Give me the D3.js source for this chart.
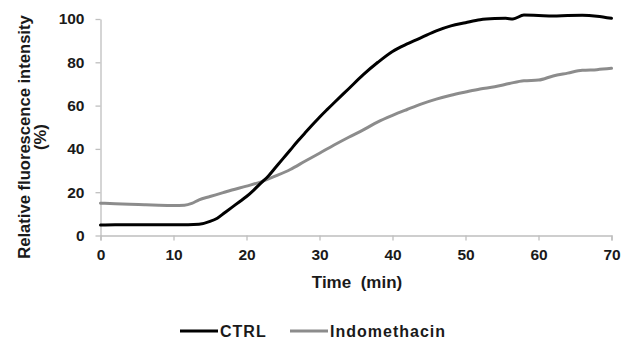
<!DOCTYPE html>
<html>
<head>
<meta charset="utf-8">
<script src="https://cdn.jsdelivr.net/npm/d3@7"></script>
<style>
  body { margin: 0; background: #fff; }
  text { font-family: Arial, "Liberation Sans", sans-serif; font-weight: bold; fill: #1a1a1a; }
</style>
</head>
<body>
<svg id="chart" width="629" height="345"></svg>
<script>
// values (time in min, relative intensity in %)
var ctrlTime = [0,2,4,6,8,10,12,13.5,15,16,17,18,19,20,21,22,23,24,25,26,27,28,29,30,31,32,34,36,38,40,42,44,46,48,50,52,54,55.5,56.5,58,60,62,64,66,68,70];
var ctrlValue = [4.8,5,5,5,5,5,5,5.2,6.5,8,10.5,13,15.5,18,21,24.3,27.5,31.5,35.5,39.5,43.5,47.3,51,54.6,58,61.3,67.8,74.3,80,85,88.5,91.5,94.5,96.8,98.3,99.7,100.2,100.3,100,101.8,101.6,101.4,101.6,101.7,101.3,100.3];

var indoTime = [0,2,4,6,8,10,11.5,12.5,13.5,15,16.8,18,20,22,24,26,28,30,32,34,36,38,40,42,44,46,48,50,52,54,56,58,60,62,64,66,68,70];
var indoValue = [14.9,14.7,14.4,14.2,14,13.9,14,14.8,16.5,18,19.8,21,22.8,24.8,27.5,30.5,34.3,38,41.8,45.4,48.8,52.5,55.5,58.2,60.8,63,64.8,66.3,67.7,68.7,70.2,71.5,71.8,73.7,75,76.3,76.6,77.2];

var xTicks = [0,10,20,30,40,50,60,70];
var yTicks = [0,20,40,60,80,100];
var seriesNames = ["CTRL","Indomethacin"];
var seriesColors = ["#000000","#8c8c8c"];

var svg = d3.select("#chart");

var x = d3.scaleLinear().domain([0,70]).range([100.5, 611.5]);
var y = d3.scaleLinear().domain([0,100]).range([235.5, 19]);

var axisColor = "#bfbfbf";

// x axis
var gx = svg.append("g").attr("transform", "translate(0," + y(0) + ")")
  .call(d3.axisBottom(x).tickValues(xTicks).tickSize(5).tickPadding(8).tickFormat(d3.format("d")));
gx.select(".domain").attr("stroke", axisColor).attr("stroke-width", 1.3);
gx.selectAll(".tick line").attr("stroke", axisColor).attr("stroke-width", 1.3);
gx.selectAll(".tick text").style("font-size", "15.5px").attr("fill", "#1a1a1a");

// y axis
var gy = svg.append("g").attr("transform", "translate(" + x(0) + ",0)")
  .call(d3.axisLeft(y).tickValues(yTicks).tickSize(5).tickPadding(11).tickSizeOuter(0));
gy.select(".domain").attr("stroke", axisColor).attr("stroke-width", 1.3);
gy.selectAll(".tick line").attr("stroke", axisColor).attr("stroke-width", 1.3);
gy.selectAll(".tick text").style("font-size", "15.5px").attr("fill", "#1a1a1a");

// lines
var line = d3.line()
  .x(function(d) { return x(d[0]); })
  .y(function(d) { return y(d[1]); })
  .curve(d3.curveMonotoneX);

var series = [d3.zip(ctrlTime, ctrlValue), d3.zip(indoTime, indoValue)];

svg.append("g").selectAll("path")
  .data([1, 0])
  .enter().append("path")
    .attr("d", function(i) { return line(series[i]); })
    .attr("fill", "none")
    .attr("stroke", function(i) { return seriesColors[i]; })
    .attr("stroke-width", 3)
    .attr("stroke-linejoin", "round")
    .attr("stroke-linecap", "round");

// axis titles
svg.append("text")
  .attr("x", 357).attr("y", 288)
  .attr("text-anchor", "middle")
  .style("font-size", "17px")
  .style("white-space", "pre")
  .text("Time  (min)");

var yTitle = svg.append("text")
  .attr("transform", "translate(0,137) rotate(-90)")
  .attr("text-anchor", "middle")
  .style("font-size", "16.6px");
yTitle.append("tspan").attr("x", 0).attr("y", 30).text("Relative fluorescence intensity");
yTitle.append("tspan").attr("x", 0).attr("y", 46).text("(%)");

// legend
var legendX = [180, 290];
var legend = svg.append("g").selectAll("g")
  .data(seriesNames)
  .enter().append("g")
    .attr("transform", function(d, i) { return "translate(" + legendX[i] + ",331)"; });

legend.append("line")
  .attr("x1", 0).attr("x2", 38)
  .attr("stroke", function(d, i) { return seriesColors[i]; })
  .attr("stroke-width", 3);

legend.append("text")
  .attr("x", 40).attr("dy", "0.35em")
  .style("font-size", "16px")
  .style("letter-spacing", "1px")
  .text(function(d) { return d; });
</script>
</body>
</html>
